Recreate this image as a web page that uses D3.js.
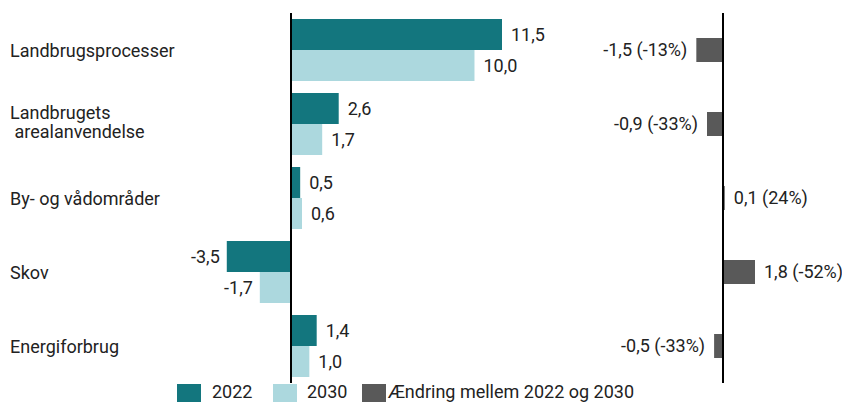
<!DOCTYPE html>
<html>
<head>
<meta charset="utf-8">
<script src="https://cdn.jsdelivr.net/npm/d3@7"></script>
<style>
  html, body { margin: 0; padding: 0; background: #fff; }
  text { font-family: Roboto, "Noto Sans", sans-serif; }
</style>
</head>
<body>
<svg id="chart" width="842" height="402"></svg>
<script>
const categories = [["Landbrugsprocesser"], ["Landbrugets", " arealanvendelse"], ["By- og vådområder"], ["Skov"], ["Energiforbrug"]];
const catKeys = ["Landbrugsprocesser", "Landbrugets arealanvendelse", "By- og vådområder", "Skov", "Energiforbrug"];
const values2022 = [11.5, 2.6, 0.5, -3.5, 1.4];
const values2030 = [10.0, 1.7, 0.6, -1.7, 1.0];
const changeValues = [-1.5, -0.9, 0.1, 1.8, -0.5];
const changePct = [-13, -33, 24, -52, -33];
const seriesNames = ["2022", "2030"];
const legendLabels = ["2022", "2030", "Ændring mellem 2022 og 2030"];
const colors = { "2022": "#13767e", "2030": "#acd8de", change: "#595959" };

const svg = d3.select("#chart");
const fmt = v => d3.format(".1f")(v).replace(".", ",").replace("−", "-");
const FS = 18;

const y = d3.scaleBand().domain(catKeys).range([13, 383]).paddingInner(12 / 74).paddingOuter(6 / 74);
const y1 = d3.scaleBand().domain(seriesNames).range([0, y.bandwidth()]);
const xL = d3.scaleLinear().domain([0, 11.5]).range([291, 502]);
const xR = d3.scaleLinear().domain([0, 1.8]).range([723, 755]);

const textColor = "#222";

// category labels
catKeys.forEach((k, i) => {
  const lines = categories[i];
  const cy = y(k) + y.bandwidth() / 2;
  if (lines.length === 1) {
    svg.append("text").attr("x", 10).attr("fill", textColor).attr("font-size", FS)
      .attr("y", cy).attr("dy", "0.37em").text(lines[0]);
  } else {
    lines.forEach((ln, j) => {
      svg.append("text").attr("x", 10).attr("fill", textColor).attr("font-size", FS)
        .attr("xml:space", "preserve").style("white-space", "pre")
        .attr("y", cy - 5.5 + j * 19).text(ln);
    });
  }
});

// left bars
const series = [values2022, values2030];
seriesNames.forEach((s, si) => {
  const vals = series[si];
  catKeys.forEach((k, i) => {
    const v = vals[i];
    const yy = y(k) + y1(s);
    svg.append("rect")
      .attr("x", Math.min(xL(0), xL(v)))
      .attr("y", yy)
      .attr("width", Math.abs(xL(v) - xL(0)))
      .attr("height", y1.bandwidth())
      .attr("fill", colors[s]);
    svg.append("text")
      .attr("x", v >= 0 ? xL(v) + 9 : xL(v) - 7)
      .attr("y", yy + y1.bandwidth() / 2)
      .attr("dy", "0.36em")
      .attr("text-anchor", v >= 0 ? "start" : "end")
      .attr("font-size", FS)
      .attr("fill", textColor)
      .text(fmt(v));
  });
});

// right bars (change)
const rh = 24;
catKeys.forEach((k, i) => {
  const v = changeValues[i];
  const cy = y(k) + y.bandwidth() / 2;
  svg.append("rect")
    .attr("x", Math.min(xR(0), xR(v)))
    .attr("y", cy - rh / 2)
    .attr("width", Math.abs(xR(v) - xR(0)))
    .attr("height", rh)
    .attr("fill", colors.change);
  svg.append("text")
    .attr("x", v >= 0 ? xR(v) + 9 : xR(v) - 9)
    .attr("y", cy)
    .attr("dy", "0.36em")
    .attr("text-anchor", v >= 0 ? "start" : "end")
    .attr("font-size", FS)
    .attr("fill", textColor)
    .text(`${fmt(v)} (${changePct[i]}%)`);
});

// axis lines
[xL(0), xR(0)].forEach(xx => {
  svg.append("line")
    .attr("x1", xx).attr("x2", xx)
    .attr("y1", 13).attr("y2", 383)
    .attr("stroke", "#000").attr("stroke-width", 2);
});

// legend
const legendItems = [
  { label: legendLabels[0], color: colors["2022"], x: 177, tx: 212 },
  { label: legendLabels[1], color: colors["2030"], x: 273, tx: 307 },
  { label: legendLabels[2], color: colors.change, x: 362, tx: 388 }
];
legendItems.forEach(it => {
  svg.append("rect").attr("x", it.x).attr("y", 384).attr("width", 24).attr("height", 18).attr("fill", it.color);
  svg.append("text").attr("x", it.tx).attr("y", 397.5).attr("font-size", FS).attr("fill", textColor).text(it.label);
});
</script>
</body>
</html>
